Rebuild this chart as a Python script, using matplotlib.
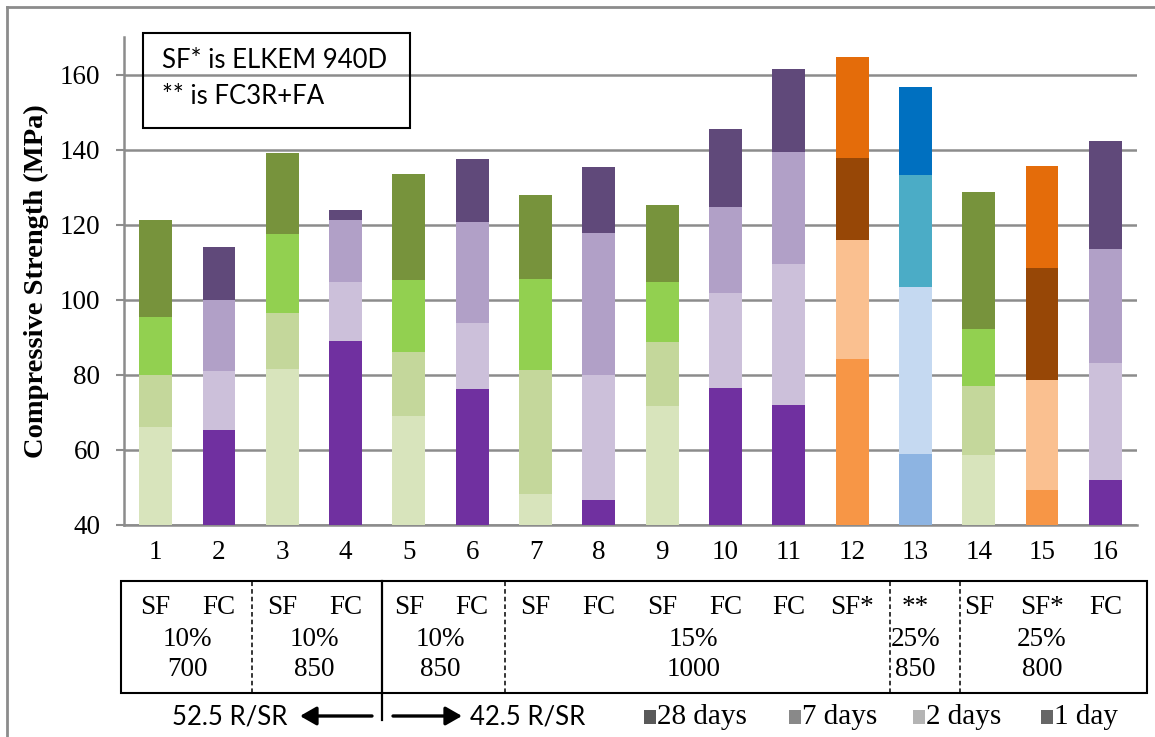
import matplotlib
matplotlib.use("Agg")
import matplotlib.pyplot as plt
from matplotlib.patches import Rectangle, FancyArrowPatch
from matplotlib.lines import Line2D
from matplotlib.transforms import blended_transform_factory

# ---- data: cumulative compressive strength (MPa) at each age ----
mixes = list(range(1, 17))
day1 = [66.0, 65.3, 81.5, 89.0, 69.0, 76.2, 48.3, 46.7, 71.7, 76.4, 71.9, 84.2, 58.9, 58.7, 49.3, 52.0]
day2 = [80.0, 81.0, 96.4, 104.7, 86.0, 93.8, 81.3, 80.0, 88.7, 101.7, 109.4, 115.9, 103.4, 77.0, 78.6, 83.1]
day7 = [95.4, 100.0, 117.5, 121.2, 105.2, 120.6, 105.5, 117.7, 104.7, 124.6, 139.3, 137.7, 133.2, 92.2, 108.4, 113.5]
day28 = [121.3, 114.0, 139.2, 123.8, 133.6, 137.4, 127.8, 135.3, 125.2, 145.6, 161.4, 164.8, 156.6, 128.6, 135.6, 142.4]
binder = ["SF", "FC", "SF", "FC", "SF", "FC", "SF", "FC", "SF", "FC", "FC", "SF*", "**", "SF", "SF*", "FC"]

# colour per binder type: (1 day, 2 days, 7 days, 28 days)
palette = {
    "SF":  ("#D8E4BC", "#C4D79B", "#92D050", "#77933C"),
    "FC":  ("#7030A0", "#CCC0DA", "#B1A0C7", "#60497A"),
    "SF*": ("#F79646", "#FAC090", "#974706", "#E46C0A"),
    "**":  ("#8DB4E2", "#C5D9F1", "#4BACC6", "#0070C0"),
}

# grouping rows under the axis: (first mix, last mix, replacement %, content)
groups = [(1, 2, "10%", "700"), (3, 4, "10%", "850"), (5, 6, "10%", "850"),
          (7, 12, "15%", "1000"), (13, 13, "25%", "850"), (14, 16, "25%", "800")]
dashed_dividers = [2.52, 6.52, 12.6, 13.7]
solid_divider = 4.58

ages = ["28 days", "7 days", "2 days", "1 day"]
age_greys = ["#595959", "#898989", "#B4B4B4", "#666666"]

SERIF = "Liberation Serif"
SANS = "Lato"
GRID = "#8C8C8C"
FS = 19.5

W, H = 1155, 737
fig = plt.figure(figsize=(W / 100, H / 100), dpi=100)


def fx(px):
    return px / W


def fy(py):
    return (H - py) / H


ax = fig.add_axes([fx(124), fy(525), fx(1137) - fx(124), fy(37) - fy(525)])

bw = 0.52
for series, k in ((day28, 3), (day7, 2), (day2, 1), (day1, 0)):
    cols = [palette[b][k] for b in binder]
    ax.bar(mixes, [v - 40 for v in series], bottom=40, width=bw, color=cols,
           edgecolor="none", zorder=3)

ax.set_xlim(0.5, 16.5)
ax.set_ylim(40, 170)
ax.set_yticks(range(40, 161, 20))
ax.set_xticks(mixes)
ax.set_xticklabels([str(m) for m in mixes], family=SERIF, fontsize=FS)
ax.tick_params(axis="x", length=0, pad=11)
ax.tick_params(axis="y", direction="out", length=6, width=1.5, color=GRID,
               pad=11, labelsize=FS)
for lab in ax.get_yticklabels():
    lab.set_family(SERIF)
ax.yaxis.grid(True, color=GRID, linewidth=1.8, zorder=0)
ax.set_axisbelow(True)
for s in ("top", "right"):
    ax.spines[s].set_visible(False)
for s in ("left", "bottom"):
    ax.spines[s].set_color(GRID)
    ax.spines[s].set_linewidth(1.8)
ax.set_ylabel("Compressive Strength (MPa)", family=SERIF, fontweight="bold",
              fontsize=20.5, labelpad=8)

# note box in the upper left
fig.patches.append(Rectangle((fx(143), fy(128)), fx(410) - fx(143), fy(33) - fy(128),
                             transform=fig.transFigure, fill=False,
                             edgecolor="black", linewidth=1.5))
fig.text(fx(162), fy(60), "SF* is ELKEM 940D", family=SANS, fontsize=18.5,
         va="center", ha="left")
fig.text(fx(162), fy(97), "** is FC3R+FA", family=SANS, fontsize=18.5,
         va="center", ha="left")

# mix description table under the axis
tr = blended_transform_factory(ax.transData, fig.transFigure)
left_edge, right_edge = 0.45, 16.66
tbl_top, tbl_bot = fy(581), fy(693)
fig.patches.append(Rectangle((left_edge, tbl_bot), right_edge - left_edge,
                             tbl_top - tbl_bot, transform=tr, fill=False,
                             edgecolor="black", linewidth=1.5))
for xd in dashed_dividers:
    fig.lines.append(Line2D([xd, xd], [tbl_bot, tbl_top], transform=tr,
                            color="black", linewidth=1.1, linestyle=(0, (3, 2))))
fig.lines.append(Line2D([solid_divider, solid_divider], [fy(720), tbl_top],
                        transform=tr, color="black", linewidth=1.6))

for m, b in zip(mixes, binder):
    fig.text(m, fy(607), b, transform=tr, family=SERIF, fontsize=FS,
             ha="center", va="center")
for first, last, pct, content in groups:
    xc = (first + last) / 2
    fig.text(xc, fy(640), pct, transform=tr, family=SERIF, fontsize=FS,
             ha="center", va="center")
    fig.text(xc, fy(670), content, transform=tr, family=SERIF, fontsize=FS,
             ha="center", va="center")

# cement type arrows
fig.text(fx(230), fy(717), "52.5 R/SR", family=SANS, fontsize=18.5,
         ha="center", va="center")
fig.text(fx(528), fy(717), "42.5 R/SR", family=SANS, fontsize=18.5,
         ha="center", va="center")
arrow = dict(arrowstyle="-|>,head_length=0.7,head_width=0.4", color="black",
             linewidth=2.4, shrinkA=0, shrinkB=0)
fig.add_artist(FancyArrowPatch((fx(372), fy(716)), (fx(300), fy(716)),
                               transform=fig.transFigure, mutation_scale=14, **arrow))
fig.add_artist(FancyArrowPatch((fx(393), fy(716)), (fx(462), fy(716)),
                               transform=fig.transFigure, mutation_scale=14, **arrow))

# age key
key_x = [644, 789, 913, 1041]
for xk, lab, g in zip(key_x, ages, age_greys):
    fig.patches.append(Rectangle((fx(xk), fy(724)), fx(12), 14 / H,
                                 transform=fig.transFigure, facecolor=g,
                                 edgecolor="none"))
    fig.text(fx(xk + 13), fy(717), lab, family=SERIF, fontsize=21,
             ha="left", va="center")

# chart frame
fig.lines.append(Line2D([fx(7), fx(7)], [0, fy(7)], transform=fig.transFigure,
                        color=GRID, linewidth=2))
fig.lines.append(Line2D([fx(7), 1], [fy(7), fy(7)], transform=fig.transFigure,
                        color=GRID, linewidth=2))

fig.savefig("out.png", dpi=100)
